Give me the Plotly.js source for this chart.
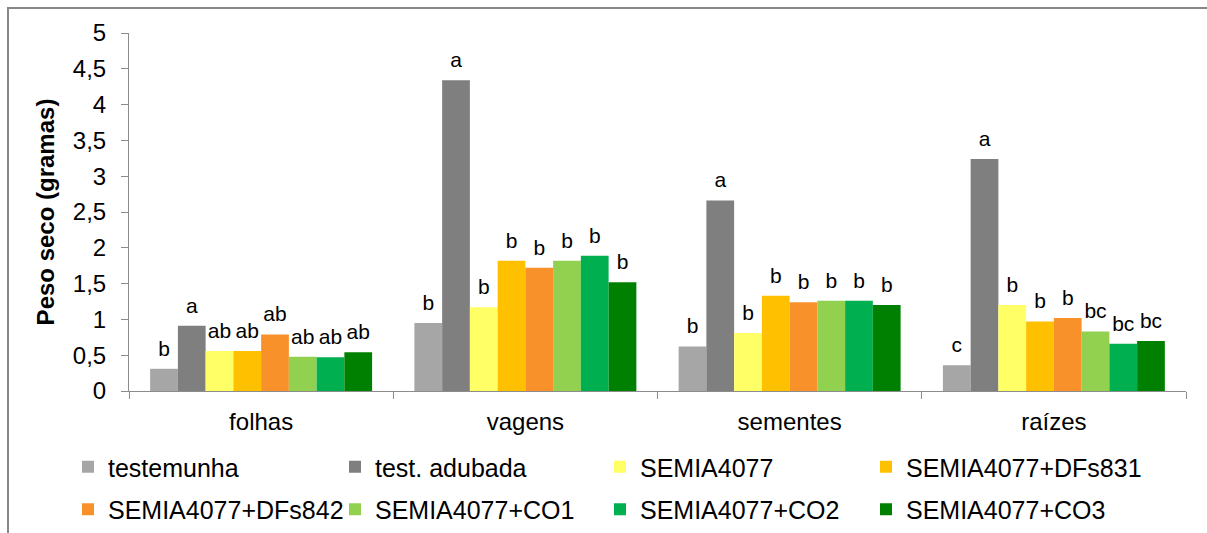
<!DOCTYPE html>
<html>
<head>
<meta charset="utf-8">
<script src="https://cdn.plot.ly/plotly-3.0.1.min.js"></script>
<style>html,body{margin:0;padding:0;background:#fff;}#chart{width:1207px;height:533px;}</style>
</head>
<body>
<div id="chart"></div>
<script>
const categories = ["folhas", "vagens", "sementes", "raízes"];
const seriesNames = ["testemunha", "test. adubada", "SEMIA4077", "SEMIA4077+DFs831",
                     "SEMIA4077+DFs842", "SEMIA4077+CO1", "SEMIA4077+CO2", "SEMIA4077+CO3"];
const testemunha     = [0.31, 0.95, 0.62, 0.36];
const testAdubada    = [0.91, 4.34, 2.66, 3.24];
const semia4077      = [0.56, 1.17, 0.81, 1.20];
const semiaDFs831    = [0.56, 1.82, 1.33, 0.97];
const semiaDFs842    = [0.79, 1.72, 1.24, 1.02];
const semiaCO1       = [0.48, 1.82, 1.26, 0.83];
const semiaCO2       = [0.47, 1.89, 1.26, 0.66];
const semiaCO3       = [0.54, 1.52, 1.20, 0.70];
const letters = [
  ["b", "b", "b", "c"],
  ["a", "a", "a", "a"],
  ["ab", "b", "b", "b"],
  ["ab", "b", "b", "b"],
  ["ab", "b", "b", "b"],
  ["ab", "b", "b", "bc"],
  ["ab", "b", "b", "bc"],
  ["ab", "b", "b", "bc"]
];
const colors = ["#a6a6a6", "#7f7f7f", "#ffff66", "#ffc000", "#f8912a", "#92d050", "#00b050", "#008000"];
const values = [testemunha, testAdubada, semia4077, semiaDFs831, semiaDFs842, semiaCO1, semiaCO2, semiaCO3];

const FONT = '"Liberation Sans", Arial, sans-serif';
const legendIds = ['legend', 'legend2', 'legend3', 'legend4'];
const traces = [];
values.forEach((v, i) => {
  traces.push({
    type: 'bar', x: categories, y: v, name: seriesNames[i],
    marker: {color: colors[i], line: {width: 0}},
    legend: legendIds[i % 4], legendgroup: 'g' + i,
    hoverinfo: 'x+y+name'
  });
});
values.forEach((v, i) => {
  traces.push({
    type: 'scatter', mode: 'markers+text', x: categories, y: v,
    text: letters[i], textposition: 'top center',
    textfont: {family: FONT, size: 21, color: '#000'},
    marker: {size: 11, opacity: 0},
    showlegend: false, cliponaxis: false, hoverinfo: 'skip'
  });
});

const PW = 1057, PH = 358.5, PL = 129, PB = 391.5;
const W = 1207, H = 533;
const legendX = [68, 335, 600, 866];
const layout = {
  width: W, height: H,
  margin: {l: 129, r: 21, t: 33, b: 141.5, pad: 0},
  paper_bgcolor: '#fff', plot_bgcolor: '#fff',
  separators: ',.',
  font: {family: FONT, size: 24, color: '#000'},
  barmode: 'group', bargap: 0.16, bargroupgap: 0,
  scattermode: 'group', scattergap: 0.16,
  showlegend: true,
  xaxis: {
    type: 'category', showline: true, linecolor: '#8c8c8c', linewidth: 1,
    ticks: 'outside', tickson: 'boundaries', ticklen: 7, tickcolor: '#8c8c8c',
    showgrid: false, zeroline: false, ticklabelstandoff: 9,
    tickfont: {family: FONT, size: 24, color: '#000'}
  },
  yaxis: {
    range: [0, 5], dtick: 0.5, tick0: 0, showline: true, linecolor: '#8c8c8c', linewidth: 1,
    ticks: 'outside', ticklen: 7, tickcolor: '#8c8c8c', showgrid: false, zeroline: false,
    ticklabelstandoff: 10,
    tickfont: {family: FONT, size: 24, color: '#000'},
    title: {text: '<b>Peso seco (gramas)</b>', font: {family: FONT, size: 24, color: '#000'}, standoff: 11}
  },
  shapes: [{
    type: 'rect', xref: 'paper', yref: 'paper',
    x0: (8 - PL) / PW, x1: (1230 - PL) / PW,
    y0: (PB - 560) / PH, y1: (PB - 8) / PH,
    line: {color: '#878787', width: 2}, fillcolor: 'rgba(0,0,0,0)', layer: 'below'
  }]
};
legendIds.forEach((id, j) => {
  layout[id] = {
    orientation: 'v', xref: 'paper', yref: 'container',
    x: (legendX[j] - PL) / PW, xanchor: 'left', y: 1 - 444 / H, yanchor: 'top',
    font: {family: FONT, size: 25, color: '#000'},
    bgcolor: 'rgba(0,0,0,0)', borderwidth: 0, traceorder: 'grouped',
    tracegroupgap: 7
  };
});

Plotly.newPlot('chart', traces, layout, {displayModeBar: false, staticPlot: true});
</script>
</body>
</html>
